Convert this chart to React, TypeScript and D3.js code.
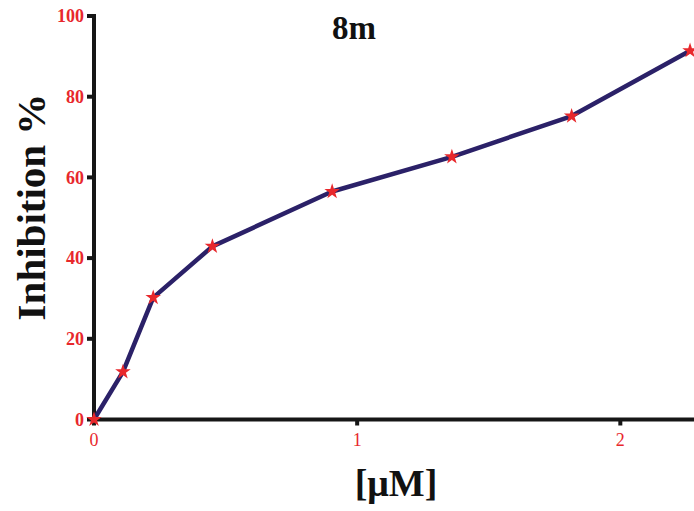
import React from "react";
import * as d3 from "d3";

const concentrations = [0, 0.11, 0.225, 0.45, 0.905, 1.36, 1.815, 2.265];
const inhibition = [0, 11.8, 30.2, 42.9, 56.5, 65.1, 75.2, 91.4];
const xTicks = [0, 1, 2];
const yTicks = [0, 20, 40, 60, 80, 100];
const title = "8m";
const xLabel = "[μM]";
const yLabel = "Inhibition %";

export default function App() {
  const W = 694, H = 511;
  const x = d3.scaleLinear().domain([0, 2.28]).range([94, 694]);
  const y = d3.scaleLinear().domain([0, 100]).range([419.5, 16]);
  const pts = concentrations.map((c, i) => [x(c), y(inhibition[i])] as [number, number]);
  const line = d3.line()(pts) || "";
  const star = d3.symbol().type(d3.symbolStar).size(75)() || "";
  const serif = "'Liberation Serif', 'Times New Roman', serif";
  const axisColor = "#161616";
  const red = "#e8282c";
  return (
    <svg width={W} height={H} style={{ position: "absolute", left: 0, top: 0, background: "#fff" }}>
      <text x={354} y={39} textAnchor="middle" fontFamily={serif} fontWeight="bold" fontSize={33} fill="#111">{title}</text>
      {/* axes */}
      <line x1={x(0)} x2={x(0)} y1={y(100) - 2} y2={y(0) + 2} stroke={axisColor} strokeWidth={4} />
      <line x1={x(0) - 2} x2={W} y1={y(0)} y2={y(0)} stroke={axisColor} strokeWidth={4} />
      {yTicks.map((t) => (
        <g key={"y" + t}>
          <line x1={x(0) - 7} x2={x(0)} y1={y(t)} y2={y(t)} stroke={axisColor} strokeWidth={4} />
          <text x={84} y={y(t)} dy="0.35em" textAnchor="end" fontFamily={serif} fontWeight="bold" fontSize={18} fill={red}>{t}</text>
        </g>
      ))}
      {xTicks.map((t) => (
        <g key={"x" + t}>
          <line x1={x(t)} x2={x(t)} y1={y(0)} y2={y(0) + 6} stroke={axisColor} strokeWidth={4} />
          <text x={x(t)} y={446} textAnchor="middle" fontFamily={serif} fontSize={18} fill={red}>{t}</text>
        </g>
      ))}
      <path d={line} fill="none" stroke="#2b2168" strokeWidth={4.5} strokeLinejoin="round" />
      {pts.map((p, i) => (
        <path key={i} d={star} transform={`translate(${p[0]},${p[1]})`} fill={red} />
      ))}
      <text x={396} y={496} textAnchor="middle" fontFamily={serif} fontWeight="bold" fontSize={38} fill="#111">{xLabel}</text>
      <text transform="translate(45,207) rotate(-90)" textAnchor="middle" fontFamily={serif} fontWeight="bold" fontSize={41} fill="#111">{yLabel}</text>
    </svg>
  );
}
